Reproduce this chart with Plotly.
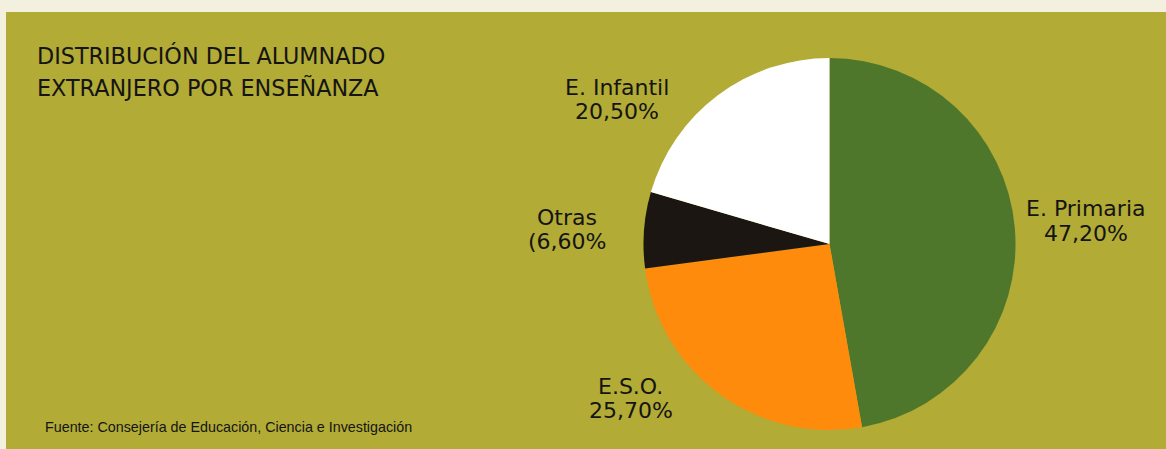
import plotly.graph_objects as go

W, H = 1166, 449

categories = ["E. Primaria", "E.S.O.", "Otras", "E. Infantil"]
values = [47.2, 25.7, 6.6, 20.5]
value_labels = ["47,20%", "25,70%", "(6,60%", "20,50%"]
colors = ["#4e772b", "#ff8b0c", "#1b1612", "#ffffff"]

title_lines = ["DISTRIBUCIÓN DEL ALUMNADO", "EXTRANJERO POR ENSEÑANZA"]
source_text = "Fuente: Consejería de Educación, Ciencia e Investigación"

def px(x):
    return x / W

def py(y):
    return 1 - y / H

cx, cy, r = 829.5, 244, 186

fig = go.Figure()
fig.add_trace(go.Pie(
    labels=categories,
    values=values,
    marker=dict(colors=colors, line=dict(width=0)),
    sort=False,
    direction="clockwise",
    rotation=0,
    textinfo="none",
    hoverinfo="label+percent",
    showlegend=False,
    domain=dict(x=[px(cx - r), px(cx + r)], y=[py(cy + r), py(cy - r)]),
))

# (x centre, y of name line, y of value line) in pixels
label_pos = {
    "E. Primaria": (1085.5, 209, 233),
    "E.S.O.": (630.5, 386.5, 410),
    "Otras": (566.5, 217.5, 241),
    "E. Infantil": (616.5, 87.5, 111.5),
}

label_font = dict(family="DejaVu Sans", size=22, color="#141414")
annotations = []
for cat, vl in zip(categories, value_labels):
    x, y1, y2 = label_pos[cat]
    for txt, yy in ((cat, y1), (vl, y2)):
        annotations.append(dict(
            x=px(x), y=py(yy), xref="paper", yref="paper",
            text=txt, showarrow=False, align="center",
            xanchor="center", yanchor="middle", font=label_font,
        ))

for txt, yy in zip(title_lines, (55, 88)):
    annotations.append(dict(
        x=px(35), y=py(yy), xref="paper", yref="paper",
        text=txt, showarrow=False, align="left",
        xanchor="left", yanchor="middle",
        font=dict(family="DejaVu Sans", size=22.3, color="#141414"),
    ))
annotations.append(dict(
    x=px(43), y=py(426.5), xref="paper", yref="paper",
    text=source_text, showarrow=False, align="left",
    xanchor="left", yanchor="middle",
    font=dict(family="Liberation Sans", size=14.3, color="#141414"),
))

fig.update_layout(
    width=W, height=H,
    margin=dict(l=0, r=0, t=0, b=0),
    paper_bgcolor="#f3f0e0",
    plot_bgcolor="#f3f0e0",
    shapes=[dict(type="rect", xref="paper", yref="paper",
                 x0=px(6), x1=1, y0=0, y1=py(12),
                 fillcolor="#b2ab35", line=dict(width=0), layer="below")],
    annotations=annotations,
)

fig.write_html(
    "out.html",
    config={"displayModeBar": False},
    post_script="document.body.style.margin='0';document.body.style.overflow='hidden';",
)
